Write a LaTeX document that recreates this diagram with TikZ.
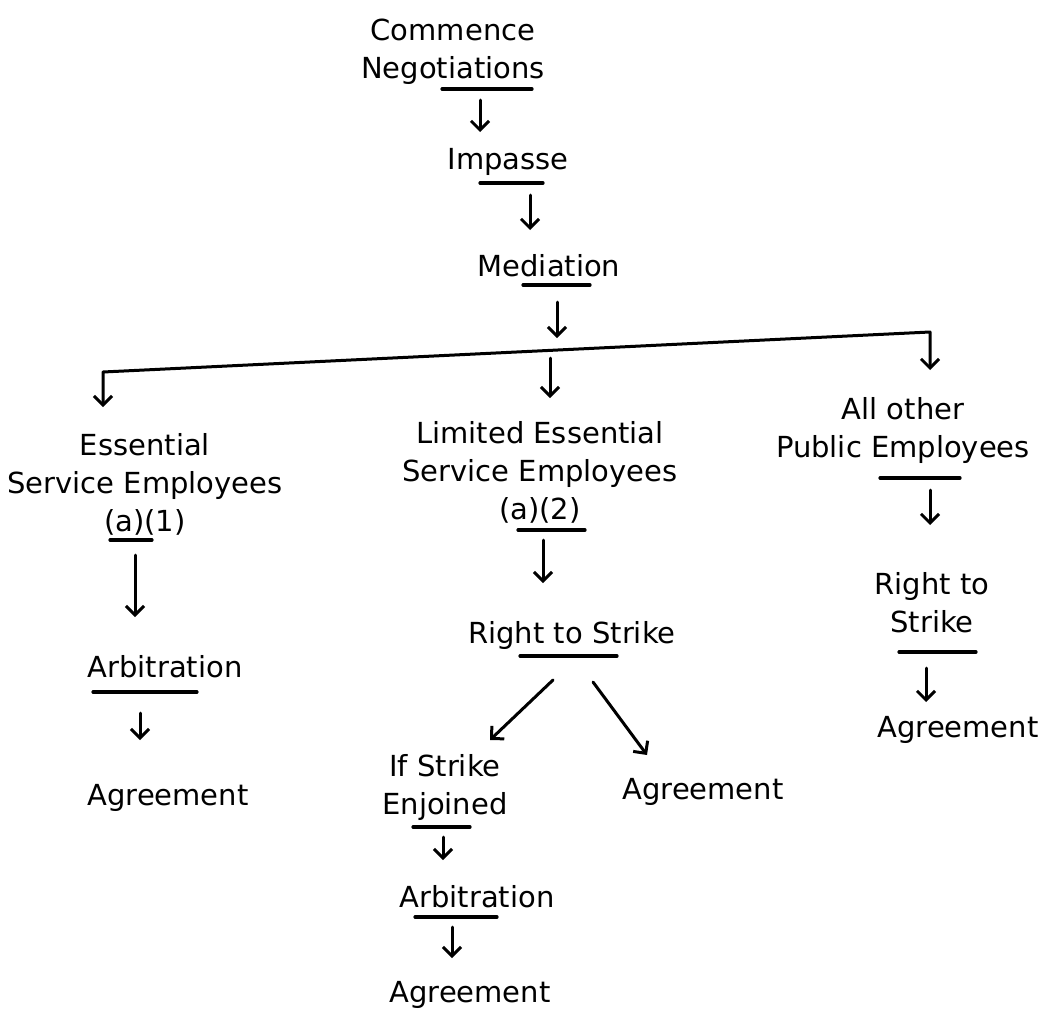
\documentclass[tikz,border=0pt]{standalone}
\usepackage{fontspec}
\setmainfont{DejaVu Sans}
\usetikzlibrary{arrows.meta,calc}
\begin{document}
\begin{tikzpicture}[x=1pt,y=-1pt,
  lbl/.style={inner sep=0pt,align=center,font=\fontsize{29}{38}\selectfont},
  tip/.style={},
  arr/.style={line width=3pt,line cap=round,line join=round,-{Straight Barb[length=9pt,width=18pt,line width=3pt]}},
  ul/.style={line width=3.2pt,line cap=round}]
\useasboundingbox[fill=white] (0,0) rectangle (1053,1031);
% nodes
\node[lbl] (cn)   at (453,52)  {Commence\\Negotiations};
\node[lbl] (imp)  at (508,162) {Impasse};
\node[lbl] (med)  at (549,266) {Mediation};
\node[lbl] (ess)  at (145,484) {Essential\\Service Employees\\(a)(1)};
\node[lbl] (les)  at (540,472) {Limited Essential\\Service Employees\\(a)(2)};
\node[lbl] (aop)  at (903,430) {All other\\Public Employees};
\node[lbl] (arb1) at (165,667) {Arbitration};
\node[lbl] (agr1) at (168,798) {Agreement};
\node[lbl] (rts)  at (572,635) {Right to Strike};
\node[lbl] (ise)  at (445,787) {If Strike\\Enjoined};
\node[lbl] (arb2) at (477,897) {Arbitration};
\node[lbl] (agr2) at (470,995) {Agreement};
\node[lbl] (agr3) at (703,792) {Agreement};
\node[lbl] (rts2) at (932,603) {Right to\\Strike};
\node[lbl] (agr4) at (958,730) {Agreement};
% bar coordinates
\coordinate (barL) at (103,372);
\coordinate (barR) at (930,332);
\coordinate (barM) at (557,338);
\coordinate (barC) at (550,358);
% underlines
\draw[ul] ($(cn)+(-11,37)$) -- ($(cn)+(79,37)$);
\draw[ul] ($(imp)+(-28,21)$) -- ($(imp)+(35,21)$);
\draw[ul] ($(med)+(-26,19)$) -- ($(med)+(41,19)$);
\draw[ul] ($(ess)+(-35,56)$) -- ($(ess)+(7,56)$);
\draw[ul] ($(arb1)+(-72,25)$) -- ($(arb1)+(32,25)$);
\draw[ul] ($(les)+(-22,58)$) -- ($(les)+(45,58)$);
\draw[ul] ($(rts)+(-52,21)$) -- ($(rts)+(45,21)$);
\draw[ul] ($(ise)+(-32,40)$) -- ($(ise)+(25,40)$);
\draw[ul] ($(arb2)+(-62,20)$) -- ($(arb2)+(20,20)$);
\draw[ul] ($(aop)+(-23,48)$) -- ($(aop)+(57,48)$);
\draw[ul] ($(rts2)+(-33,49)$) -- ($(rts2)+(44,49)$);
% connectors
\draw[arr] ($(cn)+(27,48)$) -- ($(imp)+(-28,-30)$);
\draw[arr] ($(imp)+(22,33)$) -- ($(med)+(-19,-36)$);
\draw[arr] ($(med)+(8,36)$) -- (barM);
\draw[line width=3pt,line cap=round,line join=round,
  {Straight Barb[length=9pt,width=18pt,line width=3pt]}-{Straight Barb[length=9pt,width=18pt,line width=3pt]}]
  ($(ess)+(-42,-77)$) -- (barL) -- (barR) -- ($(aop)+(27,-60)$);
\draw[arr] (barC) -- ($(les)+(10,-74)$);
\draw[arr] ($(ess)+(-10,71)$) -- ($(arb1)+(-30,-50)$);
\draw[arr] ($(arb1)+(-25,46)$) -- ($(agr1)+(-28,-58)$);
\draw[arr] ($(les)+(3,68)$) -- ($(rts)+(-29,-52)$);
\draw[arr] ($(rts)+(-19,45)$) -- ($(ise)+(45,-47)$);
\draw[arr] ($(rts)+(21,47)$) -- ($(agr3)+(-56,-37)$);
\draw[arr] ($(ise)+(-2,50)$) -- ($(arb2)+(-34,-37)$);
\draw[arr] ($(arb2)+(-25,30)$) -- ($(agr2)+(-18,-37)$);
\draw[arr] ($(aop)+(27,60)$) -- ($(rts2)+(-2,-78)$);
\draw[arr] ($(rts2)+(-6,65)$) -- ($(agr4)+(-32,-28)$);
\end{tikzpicture}
\end{document}
